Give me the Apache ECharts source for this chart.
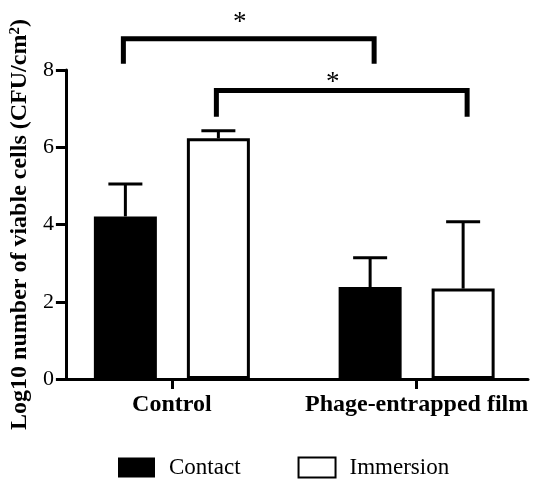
<!DOCTYPE html>
<html>
<head>
<meta charset="utf-8">
<script src="https://cdn.jsdelivr.net/npm/echarts@6/dist/echarts.min.js"></script>
<style>
  html, body { margin: 0; padding: 0; background: #fff; }
  #chart { width: 539px; height: 487px; }
</style>
</head>
<body>
<div id="chart"></div>
<script>
const categories = ['Control', 'Phage-entrapped film'];
const seriesNames = ['Contact', 'Immersion'];
const contactMean = [4.21, 2.38];
const contactErr = [0.84, 0.76];
const immersionMean = [6.23, 2.34];
const immersionErr = [0.2, 1.73];
const yMin = 0;
const yMax = 8;
const yStep = 2;
// significance brackets: which series, height of bar, height of the drop ends, star height
const bracketSeries = [0, 1];
const bracketTop = [8.81, 7.47];
const bracketEnd = [8.16, 6.79];
const bracketMark = ['*', '*'];
const markY = [9.31, 7.76];

const FONT = "'Liberation Serif', 'Times New Roman', serif";
const BAR_W = 63;
const BAR_GAP = 30;
const HALF = (BAR_W + BAR_GAP) / 2;
const offsets = [-HALF, HALF];

// 误差线
function errorRenderer(offset) {
  return function (params, api) {
    const cat = api.value(0);
    const x = api.coord([cat, 0])[0] + offset;
    const y1 = api.coord([cat, api.value(1)])[1];
    const y2 = api.coord([cat, api.value(2)])[1];
    const st = { stroke: '#000', lineWidth: 3 };
    return {
      type: 'group',
      children: [
        { type: 'line', shape: { x1: x, y1: y1, x2: x, y2: y2 }, style: st },
        { type: 'line', shape: { x1: x - 17, y1: y2, x2: x + 17, y2: y2 }, style: st }
      ]
    };
  };
}

// 显著性标记
function bracketRenderer(params, api) {
  const i = params.dataIndex;
  const off = offsets[bracketSeries[i]];
  const xa = api.coord([api.value(0), 0])[0] + off - 2;
  const xb = api.coord([api.value(1), 0])[0] + off + 4;
  const yt = api.coord([0, api.value(2)])[1];
  const ye = api.coord([0, api.value(3)])[1];
  const ym = api.coord([0, api.value(4)])[1];
  const st = { stroke: '#000', lineWidth: 5, fill: null };
  return {
    type: 'group',
    children: [
      { type: 'polyline', shape: { points: [[xa, ye], [xa, yt], [xb, yt], [xb, ye]] }, style: st },
      {
        type: 'text',
        style: {
          text: bracketMark[i], x: (xa + xb) / 2 - 9, y: ym + 4,
          align: 'center', verticalAlign: 'middle',
          fontSize: 27, fontFamily: FONT, fill: '#000'
        }
      }
    ]
  };
}

const errContact = categories.map((c, i) => [i, contactMean[i], contactMean[i] + contactErr[i]]);
const errImmersion = categories.map((c, i) => [i, immersionMean[i], immersionMean[i] + immersionErr[i]]);
const bracketData = bracketSeries.map((s, i) => [0, 1, bracketTop[i], bracketEnd[i], markY[i]]);

const option = {
  animation: false,
  backgroundColor: '#fff',
  legend: {
    data: seriesNames,
    left: 113,
    top: 451,
    icon: 'rect',
    itemWidth: 37,
    itemHeight: 20,
    itemGap: 57,
    textStyle: { fontSize: 23, fontFamily: FONT, color: '#000', padding: [0, 0, 0, 9] }
  },
  grid: [
    { left: 65, right: 11, top: 70, bottom: 108 },
    { left: 49.5, right: -4.5, top: 70, bottom: 108 }
  ],
  xAxis: [
    {
      type: 'category', gridIndex: 0, data: categories,
      axisLine: { lineStyle: { color: '#000', width: 3 } },
      axisTick: { show: false },
      axisLabel: { show: false }
    },
    {
      type: 'category', gridIndex: 1, data: categories,
      axisLine: { show: false },
      axisTick: { show: true, alignWithLabel: true, length: 10, lineStyle: { color: '#000', width: 3 } },
      axisLabel: {
        color: '#000', fontSize: 24, fontWeight: 'bold', fontFamily: FONT,
        margin: 14, interval: 0, hideOverlap: false
      }
    }
  ],
  yAxis: [
    {
      type: 'value', gridIndex: 0, min: yMin, max: yMax, interval: yStep,
      name: '{a|Log10 number of viable cells (CFU/cm}{s|2}{a|)}',
      nameLocation: 'middle',
      nameGap: 28,
      nameTextStyle: {
        rich: {
          a: { fontSize: 24, fontWeight: 'bold', fontFamily: FONT, color: '#000' },
          s: { fontSize: 15, fontWeight: 'bold', fontFamily: FONT, color: '#000', verticalAlign: 'top' }
        }
      },
      axisLine: { show: true, lineStyle: { color: '#000', width: 3 } },
      axisTick: { show: true, inside: false, length: 10, lineStyle: { color: '#000', width: 3 } },
      axisLabel: { color: '#000', fontSize: 22, fontFamily: FONT, margin: 12 },
      splitLine: { show: false }
    },
    {
      type: 'value', gridIndex: 1, min: yMin, max: yMax, interval: yStep, show: false,
      splitLine: { show: false }
    }
  ],
  series: [
    {
      name: seriesNames[0], type: 'bar', xAxisIndex: 1, yAxisIndex: 1,
      data: contactMean, barWidth: BAR_W, barGap: (BAR_GAP / BAR_W * 100) + '%',
      itemStyle: { color: '#000', borderColor: '#000', borderWidth: 0 }
    },
    {
      name: seriesNames[1], type: 'bar', xAxisIndex: 1, yAxisIndex: 1,
      data: immersionMean, barWidth: BAR_W,
      itemStyle: { color: '#fff', borderColor: '#000', borderWidth: 3 }
    },
    {
      type: 'custom', xAxisIndex: 1, yAxisIndex: 1, z: 1,
      renderItem: errorRenderer(offsets[0]), data: errContact,
      encode: { x: 0, y: [1, 2] }
    },
    {
      type: 'custom', xAxisIndex: 1, yAxisIndex: 1, z: 1,
      renderItem: errorRenderer(offsets[1]), data: errImmersion,
      encode: { x: 0, y: [1, 2] }
    },
    {
      type: 'custom', xAxisIndex: 1, yAxisIndex: 1,
      renderItem: bracketRenderer, data: bracketData,
      encode: { x: [0, 1], y: [2, 3, 4] }
    }
  ]
};

const myChart = echarts.init(document.getElementById('chart'));
myChart.setOption(option);
</script>
</body>
</html>
